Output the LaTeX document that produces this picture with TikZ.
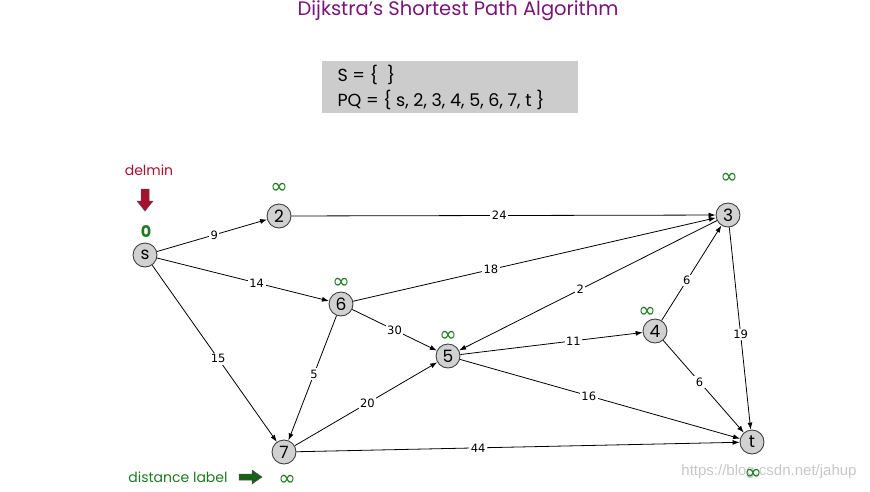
\documentclass[tikz,border=0pt]{standalone}
\usepackage{fontspec}
\setmainfont{Poppins}
\newfontfamily\lab{DejaVu Sans}
\newfontfamily\wm{Liberation Sans}
\usetikzlibrary{arrows.meta}
\definecolor{ttl}{HTML}{7A1478}
\definecolor{dgreen}{HTML}{1E7A1E}
\definecolor{dred}{HTML}{A8102E}
\begin{document}
\begin{tikzpicture}[x=1pt,y=-1pt,
 vtx/.style={circle,draw=black!75,fill=black!18,line width=0.9pt,minimum size=24pt,inner sep=0pt,font=\fontsize{17}{17}\selectfont},
 edge/.style={-{Latex[length=7pt,width=5pt]},line width=0.8pt},
 w/.style={fill=white,inner sep=1.5pt,font=\lab\fontsize{11.5}{13}\selectfont},
 inf/.style={text=dgreen,font=\lab\fontsize{21}{21}\selectfont}]
\useasboundingbox (0,0) rectangle (870,491);
% title
\node[text=ttl,font=\fontsize{19.5}{22}\selectfont] (title) at (458,11) {Dijkstra's Shortest Path Algorithm};
% box
\fill[black!20] (322,61) rectangle (578,113);
\node[anchor=west,font=\fontsize{17.5}{20}\selectfont] (S) at (334,75) {S = \{ \ \}};
\node[anchor=west,font=\fontsize{17.5}{20}\selectfont] (PQ) at (334,100) {PQ = \{ s, 2, 3, 4, 5, 6, 7, t \}};
% vertices
\node[vtx] (s) at (145,255) {s};
\node[vtx] (n2) at (279,216) {2};
\node[vtx] (n3) at (728,215) {3};
\node[vtx] (n6) at (341,304) {6};
\node[vtx] (n5) at (448,356) {5};
\node[vtx] (n4) at (655,331) {4};
\node[vtx] (n7) at (284,452) {7};
\node[vtx] (t) at (752,442) {t};
% distance labels
\node[text=dgreen,font=\fontsize{16}{16}\selectfont\bfseries] (ds) at (146,232) {0};
\node[inf] (d2) at (279,188) {∞};
\node[inf] (d3) at (729,178) {∞};
\node[inf] (d6) at (341,283) {∞};
\node[inf] (d5) at (448,336) {∞};
\node[inf] (d4) at (647,312) {∞};
\node[inf] (d7) at (287,480) {∞};
% edges
\draw[edge] (s) -- node[w,pos=0.52] {9} (n2);
\draw[edge] (n2) -- node[w,pos=0.49] {24} (n3);
\draw[edge] (s) -- node[w,pos=0.58] {14} (n6);
\draw[edge] (n6) -- node[w,pos=0.38] {18} (n3);
\draw[edge] (s) -- node[w,pos=0.53] {15} (n7);
\draw[edge] (n3) -- node[w,pos=0.53] {2} (n5);
\draw[edge] (n6) -- node[w,pos=0.5] {30} (n5);
\draw[edge] (n5) -- node[w,pos=0.62] {11} (n4);
\draw[edge] (n4) -- node[w,pos=0.42] {6} (n3);
\draw[edge] (n3) -- node[w,pos=0.53] {19} (t);
\draw[edge] (n6) -- node[w,pos=0.47] {5} (n7);
\draw[edge] (n7) -- node[w,pos=0.51] {20} (n5);
\draw[edge] (n5) -- node[w,pos=0.46] {16} (t);
\draw[edge] (n4) -- node[w,pos=0.45] {6} (t);
\draw[edge] (n7) -- node[w,pos=0.41] {44} (t);
% delmin
\node[text=dred,font=\fontsize{14}{16}\selectfont] (delmin) at (149,170) {delmin};
\draw[fill=dred,draw=black!70,line width=0.5pt] (141,189) -- (149,189) -- (149,201) -- (153,201) -- (145,211) -- (137,201) -- (141,201) -- cycle;
% distance label
\node[text=dgreen,font=\fontsize{14}{16}\selectfont] (dl) at (178,477) {distance label};
\draw[fill=dgreen!80!black,draw=black!70,line width=0.5pt] (239,474) -- (252,474) -- (252,470) -- (262,477) -- (252,484) -- (252,480) -- (239,480) -- cycle;
% watermark
\node[text=black!22,font=\wm\fontsize{15}{16}\selectfont] (wmk) at (769,472) {https://blog.csdn.net/jahup};
\node[inf] (dt) at (753,474) {∞};
\end{tikzpicture}
\end{document}
